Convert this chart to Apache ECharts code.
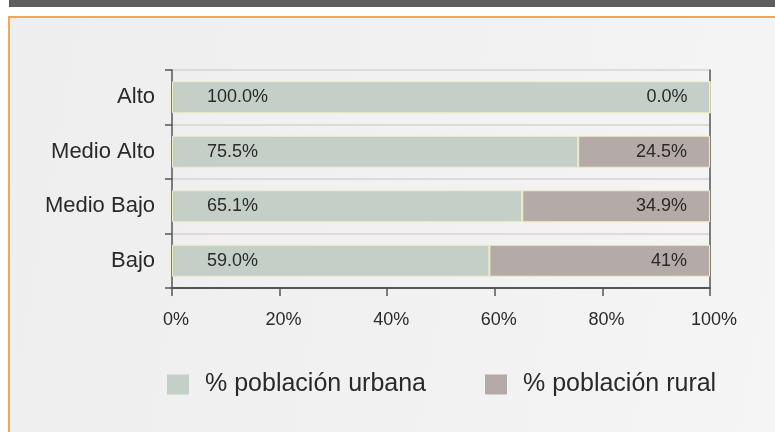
<!DOCTYPE html>
<html>
<head>
<meta charset="utf-8">
<script src="https://cdn.jsdelivr.net/npm/echarts@6/dist/echarts.min.js"></script>
<style>
  html, body { margin: 0; padding: 0; background: #ffffff; }
  #wrap { position: relative; width: 775px; height: 432px; overflow: hidden; background: #ffffff; }
  #topbar { position: absolute; left: 9px; top: 0; width: 766px; height: 7px; background: #605e5c; }
  #panel { position: absolute; left: 8px; top: 16px; width: 780px; height: 430px;
           border-left: 2px solid #f9a54c; border-top: 2px solid #f9a54c;
           background: linear-gradient(100deg, #eeeeee 0%, #f1f1f1 50%, #f5f5f5 100%); }
  #chart { position: absolute; left: 0; top: 0; width: 775px; height: 432px; }
</style>
</head>
<body>
<div id="wrap">
  <div id="topbar"></div>
  <div id="panel"></div>
  <div id="chart"></div>
</div>
<script>
const categories = ['Alto', 'Medio Alto', 'Medio Bajo', 'Bajo'];
const urbanValues = [100.0, 75.5, 65.1, 59.0];
const ruralValues = [0.0, 24.5, 34.9, 41.0];
const urbanLabels = ['100.0%', '75.5%', '65.1%', '59.0%'];
const ruralLabels = ['0.0%', '24.5%', '34.9%', '41%'];
const seriesNames = ['% población urbana', '% población rural'];
const xTicks = [0, 20, 40, 60, 80, 100];

const FONT = '"Liberation Sans", Arial, sans-serif';
const chart = echarts.init(document.getElementById('chart'), null, { renderer: 'canvas' });

chart.setOption({
  backgroundColor: 'transparent',
  animation: false,
  grid: { left: 172, right: 65, top: 70, bottom: 144 },
  legend: {
    data: seriesNames,
    left: 162,
    top: 367,
    itemWidth: 22,
    itemHeight: 20,
    itemGap: 59,
    icon: 'rect',
    itemStyle: { borderWidth: 0 },
    textStyle: { fontFamily: FONT, fontSize: 25, color: '#2a2a2a', padding: [3, 0, 0, 11] }
  },
  xAxis: {
    type: 'value',
    min: xTicks[0],
    max: xTicks[xTicks.length - 1],
    interval: 20,
    axisLine: { show: true, lineStyle: { color: '#555555', width: 2 } },
    axisTick: { show: true, length: 8, lineStyle: { color: '#555555', width: 1.5 } },
    splitLine: { show: false },
    axisLabel: {
      margin: 23,
      fontFamily: FONT, fontSize: 18, color: '#2a2a2a',
      padding: [0, 0, 0, 8],
      formatter: v => v + '%'
    }
  },
  yAxis: [{
    type: 'category',
    data: categories,
    inverse: true,
    axisLine: { show: true, lineStyle: { color: '#555555', width: 1.5 } },
    axisTick: { show: true, length: 7, lineStyle: { color: '#555555', width: 1.5 } },
    splitLine: { show: true, lineStyle: { color: '#dad2d2', width: 1.5 } },
    axisLabel: { margin: 17, fontFamily: FONT, fontSize: 22, color: '#2a2a2a' }
  }, {
    type: 'category',
    data: categories,
    inverse: true,
    position: 'right',
    axisLine: { show: true, lineStyle: { color: '#555555', width: 1.5 } },
    axisTick: { show: false },
    axisLabel: { show: false },
    splitLine: { show: false }
  }],
  series: [{
    name: seriesNames[0],
    type: 'bar',
    stack: 'total',
    yAxisIndex: 0,
    barWidth: 32,
    data: urbanValues,
    itemStyle: { color: '#c4cfc8', borderColor: '#eeecc6', borderWidth: 1 },
    label: {
      show: true, position: 'insideLeft', distance: 35,
      fontFamily: FONT, fontSize: 18, color: '#2a2a2a',
      formatter: p => urbanLabels[p.dataIndex]
    }
  }, {
    name: seriesNames[1],
    type: 'bar',
    stack: 'total',
    yAxisIndex: 0,
    barWidth: 32,
    data: ruralValues,
    itemStyle: { color: '#b4aaa7', borderColor: '#eeecc6', borderWidth: 1 },
    label: {
      show: true, position: 'insideRight', distance: 23,
      fontFamily: FONT, fontSize: 18, color: '#2a2a2a',
      formatter: p => ruralLabels[p.dataIndex]
    }
  }]
});
</script>
</body>
</html>
